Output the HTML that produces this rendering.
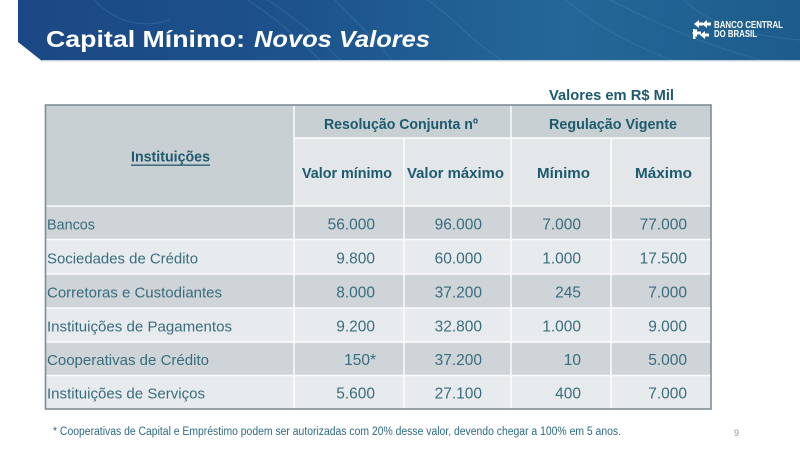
<!DOCTYPE html>
<html>
<head>
<meta charset="utf-8">
<style>
html,body{margin:0;padding:0;background:#fff;}
body{width:800px;height:450px;overflow:hidden;}
svg{display:block;}
text{font-family:"Liberation Sans",sans-serif;}
</style>
</head>
<body>
<svg width="800" height="450" viewBox="0 0 800 450" xmlns="http://www.w3.org/2000/svg">
<defs>
<linearGradient id="bg" x1="0" y1="0" x2="1" y2="0">
<stop offset="0" stop-color="#1b4884"/>
<stop offset="0.35" stop-color="#1d528c"/>
<stop offset="0.7" stop-color="#236898"/>
<stop offset="1" stop-color="#1d5c8d"/>
</linearGradient>
<clipPath id="bc"><polygon points="18,0 800,0 800,61 42,61 18,42"/></clipPath>
</defs>
<rect width="800" height="450" fill="#ffffff"/>
<!-- banner -->
<polygon points="18,0 800,0 800,61 42,61 18,42" fill="url(#bg)"/>
<g clip-path="url(#bc)" fill="none" stroke="#4a8abb" stroke-opacity="0.3" stroke-width="1.2">
<path d="M240,-5 C280,20 300,40 330,70"/>
<path d="M260,-5 C300,20 320,40 350,70"/>
<path d="M330,-5 C360,25 380,45 400,70"/>
<path d="M420,-5 C460,20 470,45 520,70"/>
<path d="M560,-5 C600,30 640,50 700,70"/>
<path d="M600,-5 C650,20 690,40 760,60"/>
<path d="M680,-5 C700,20 740,35 800,40"/>
<path d="M90,-5 C110,20 140,30 170,20"/>
</g>
<rect x="42" y="60" width="758" height="1.5" fill="#c9d3da"/>
<text x="46" y="47" font-size="23" font-weight="bold" fill="#ffffff" textLength="199" lengthAdjust="spacingAndGlyphs">Capital Mínimo:</text>
<text x="254" y="47" font-size="23" font-weight="bold" font-style="italic" fill="#ffffff" textLength="176" lengthAdjust="spacingAndGlyphs">Novos Valores</text>
<!-- logo -->
<g fill="#ffffff">
<path d="M694,24 l5,-4 v2.5 h4 v3 h-4 v2.5z"/>
<path d="M702,24 l5,-4 v2.5 h4 v3 h-4 v2.5z"/>
<path d="M692,33 l5,-4 v2.5 h4 v3 h-4 v2.5z"/>
<path d="M700,35 l5,4 v-2.5 h4 v-3 h-4 v-2.5z"/>
<path d="M693,39 h2.5 v-10 h-2.5z"/>
</g>
<text x="714" y="28" font-size="10" font-weight="bold" fill="#ffffff" textLength="69" lengthAdjust="spacingAndGlyphs">BANCO CENTRAL</text>
<text x="714" y="37" font-size="10" font-weight="bold" fill="#ffffff" textLength="43" lengthAdjust="spacingAndGlyphs">DO BRASIL</text>

<!-- Valores em R$ Mil -->
<text x="549" y="100" font-size="15" font-weight="bold" fill="#1d5a6e" textLength="125" lengthAdjust="spacingAndGlyphs">Valores em R$ Mil</text>

<!-- table backgrounds -->
<rect x="45" y="105" width="666" height="101" fill="#c9d0d4"/>
<rect x="294" y="138" width="417" height="68" fill="#e3e7e9"/>
<rect x="45" y="206" width="666" height="33.5" fill="#ced4d7"/>
<rect x="45" y="239.5" width="666" height="34.5" fill="#e8ebed"/>
<rect x="45" y="274" width="666" height="34" fill="#ced4d7"/>
<rect x="45" y="308" width="666" height="34" fill="#e8ebed"/>
<rect x="45" y="342" width="666" height="33.5" fill="#ced4d7"/>
<rect x="45" y="375.5" width="666" height="33.5" fill="#e8ebed"/>
<!-- internal white lines -->
<g stroke="#ffffff" stroke-width="1.5" stroke-opacity="0.9">
<line x1="294" y1="138" x2="711" y2="138"/>
<line x1="45" y1="206" x2="711" y2="206"/>
<line x1="45" y1="239.5" x2="711" y2="239.5"/>
<line x1="45" y1="274" x2="711" y2="274"/>
<line x1="45" y1="308" x2="711" y2="308"/>
<line x1="45" y1="342" x2="711" y2="342"/>
<line x1="45" y1="375.5" x2="711" y2="375.5"/>
<line x1="294" y1="105" x2="294" y2="409"/>
<line x1="404" y1="138" x2="404" y2="409"/>
<line x1="511" y1="105" x2="511" y2="409"/>
<line x1="611" y1="138" x2="611" y2="409"/>
</g>
<rect x="45.5" y="105" width="665.5" height="304" fill="none" stroke="#7f8e95" stroke-width="1.6"/>

<!-- headers -->
<g font-size="15" font-weight="bold" fill="#1d5a6e">
<text x="131" y="161.5" textLength="79" lengthAdjust="spacingAndGlyphs">Instituições</text>
<text x="324" y="129" textLength="154" lengthAdjust="spacingAndGlyphs">Resolução Conjunta nº</text>
<text x="549" y="129" textLength="128" lengthAdjust="spacingAndGlyphs">Regulação Vigente</text>
<text x="302" y="178" textLength="90" lengthAdjust="spacingAndGlyphs">Valor mínimo</text>
<text x="407" y="178" textLength="97" lengthAdjust="spacingAndGlyphs">Valor máximo</text>
<text x="537" y="178" textLength="53" lengthAdjust="spacingAndGlyphs">Mínimo</text>
<text x="635" y="178" textLength="57" lengthAdjust="spacingAndGlyphs">Máximo</text>
</g>
<rect x="131" y="164.5" width="79" height="1.3" fill="#1d5a6e"/>

<!-- row labels -->
<g font-size="15" fill="#386c7e">
<text x="47" y="229.5" textLength="48" lengthAdjust="spacingAndGlyphs">Bancos</text>
<text x="47" y="263.5" textLength="151" lengthAdjust="spacingAndGlyphs">Sociedades de Crédito</text>
<text x="47" y="297.5" textLength="175" lengthAdjust="spacingAndGlyphs">Corretoras e Custodiantes</text>
<text x="47" y="331.5" textLength="185" lengthAdjust="spacingAndGlyphs">Instituições de Pagamentos</text>
<text x="47" y="365" textLength="162" lengthAdjust="spacingAndGlyphs">Cooperativas de Crédito</text>
<text x="47" y="398.5" textLength="158" lengthAdjust="spacingAndGlyphs">Instituições de Serviços</text>
</g>

<!-- numbers -->
<g font-size="15.5" fill="#386c7e" text-anchor="end">
<text x="375" y="229.5">56.000</text>
<text x="375" y="263.5">9.800</text>
<text x="375" y="297.5">8.000</text>
<text x="375" y="331.5">9.200</text>
<text x="376" y="365">150*</text>
<text x="375" y="398.5">5.600</text>

<text x="482" y="229.5">96.000</text>
<text x="482" y="263.5">60.000</text>
<text x="482" y="297.5">37.200</text>
<text x="482" y="331.5">32.800</text>
<text x="482" y="365">37.200</text>
<text x="482" y="398.5">27.100</text>

<text x="581" y="229.5">7.000</text>
<text x="581" y="263.5">1.000</text>
<text x="581" y="297.5">245</text>
<text x="581" y="331.5">1.000</text>
<text x="581" y="365">10</text>
<text x="581" y="398.5">400</text>

<text x="687" y="229.5">77.000</text>
<text x="687" y="263.5">17.500</text>
<text x="687" y="297.5">7.000</text>
<text x="687" y="331.5">9.000</text>
<text x="687" y="365">5.000</text>
<text x="687" y="398.5">7.000</text>
</g>

<!-- footnote -->
<text x="53" y="435" font-size="11.5" fill="#2d6a80" textLength="568" lengthAdjust="spacingAndGlyphs">* Cooperativas de Capital e Empréstimo podem ser autorizadas com 20% desse valor, devendo chegar a 100% em 5 anos.</text>
<text x="734" y="436" font-size="9" fill="#8a9499">9</text>
</svg>
</body>
</html>
